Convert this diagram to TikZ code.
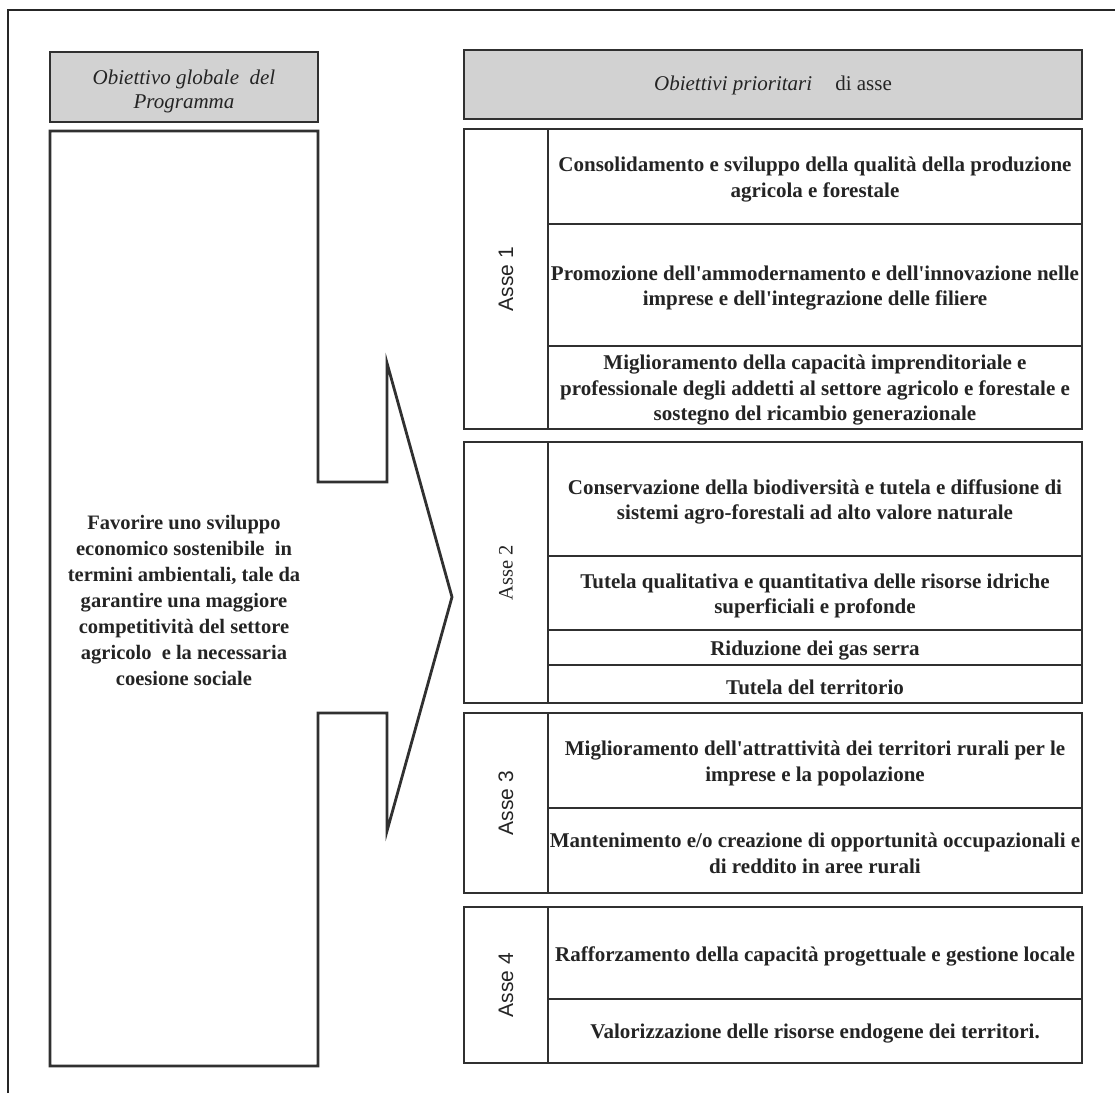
\documentclass[tikz,border=0pt]{standalone}
\usepackage{fontspec}
\setmainfont{Liberation Serif}
\newfontfamily\arialfont{Liberation Sans}
\definecolor{linec}{RGB}{48,48,48}
\definecolor{hdrfill}{RGB}{210,210,210}
\definecolor{txt}{RGB}{36,36,36}
\newcommand\apo{\textquotesingle}
\newcommand\rowfnt{\fontsize{21}{25.5}\selectfont\bfseries}
\newcommand\goalfnt{\fontsize{20.5}{26}\selectfont\bfseries}
\newcommand\hdrfnt{\fontsize{21}{24}\selectfont}
\begin{document}
\begin{tikzpicture}[x=1pt,y=-1pt,
  hdrbox/.style={draw=linec, line width=2.8pt, fill=hdrfill, inner sep=0pt},
  hdrtext/.style={align=center, font=\hdrfnt, text=txt, inner sep=0pt},
  rowcell/.style={draw=linec, line width=1.6pt, minimum width=534pt, inner sep=0pt},
  rowtext/.style={align=center, font=\rowfnt, text=txt, inner sep=0pt, yshift=-3pt},
  labsans/.style={draw=linec, line width=2.8pt, rotate=90, minimum height=84pt, inner sep=0pt, font=\arialfont\fontsize{21}{21}\selectfont, text=txt},
  labserif/.style={labsans, font=\fontsize{20.5}{21}\selectfont},
  blockframe/.style={draw=linec, line width=2.8pt, minimum width=618pt, inner sep=0pt},
  outline/.style={draw=linec, line width=2.8pt, line join=miter},
  framel/.style={draw=black!85, line width=1.8pt}
]
\useasboundingbox (0,0) rectangle (1115,1093);
% outer page frame (only top and left edges are visible)
\coordinate (fBL) at (8,1093);
\coordinate (fTL) at (8,10);
\coordinate (fTR) at (1115,10);
\draw[framel] (fBL) -- (fTL) -- (fTR);

% headers
\node[hdrbox, minimum width=268pt, minimum height=70pt] (hL) at (184,87) {};
\node[hdrtext, yshift=-4pt] (hLt) at (hL.center) {\itshape Obiettivo globale\ \ del\\ \itshape Programma};
\node[hdrbox, minimum width=618pt, minimum height=69pt] (hR) at (773,84.5) {};
\node[hdrtext, yshift=-1pt] (hRt) at (hR.center) {\itshape Obiettivi prioritari\hspace{1.1em}\upshape di asse};

% left box merged with the block arrow
\coordinate (g1) at (50,131);
\coordinate (g2) at (318,131);
\coordinate (g3) at (318,482);
\coordinate (g4) at (387,482);
\coordinate (g5) at (387,363);
\coordinate (tip) at (452,597);
\coordinate (g7) at (387,831);
\coordinate (g8) at (387,713);
\coordinate (g9) at (318,713);
\coordinate (g10) at (318,1066);
\coordinate (g11) at (50,1066);
\draw[outline] (g1) -- (g2) -- (g3) -- (g4) -- (g5) -- (tip) -- (g7) -- (g8) -- (g9) -- (g10) -- (g11) -- cycle;
\node[align=center, font=\goalfnt, text=txt, inner sep=0pt] (goal) at (184,600)
  {Favorire uno sviluppo\\economico sostenibile\ \ in\\termini ambientali, tale da\\garantire una maggiore\\competitivit\`a del settore\\agricolo\ \ e la necessaria\\coesione sociale};

% ---------- Asse 1 ----------
\node[rowcell, minimum height=95pt] (r11) at (815,176.5) {};
\node[rowtext] (t11) at (r11.center)
  {Consolidamento e sviluppo della qualità della produzione\\agricola e forestale};
\node[rowcell, minimum height=122pt] (r12) at (815,285) {};
\node[rowtext] (t12) at (r12.center)
  {Promozione dell\apo ammodernamento e dell\apo innovazione nelle\\imprese e dell\apo integrazione delle filiere};
\node[rowcell, minimum height=83pt] (r13) at (815,387.5) {};
\node[rowtext] (t13) at (r13.center)
  {Miglioramento della capacità imprenditoriale e\\professionale degli addetti al settore agricolo e forestale e\\sostegno del ricambio generazionale};
\node[labsans, minimum width=300pt] (a1) at (506,279) {Asse 1};
\node[blockframe, minimum height=300pt] (b1) at (773,279) {};

% ---------- Asse 2 ----------
\node[rowcell, minimum height=114pt] (r21) at (815,499) {};
\node[rowtext] (t21) at (r21.center)
  {Conservazione della biodiversità e tutela e diffusione di\\sistemi agro-forestali ad alto valore naturale};
\node[rowcell, minimum height=74pt] (r22) at (815,593) {};
\node[rowtext] (t22) at (r22.center)
  {Tutela qualitativa e quantitativa delle risorse idriche\\superficiali e profonde};
\node[rowcell, minimum height=35pt] (r23) at (815,647.5) {};
\node[rowtext] (t23) at (r23.center) {Riduzione dei gas serra};
\node[rowcell, minimum height=38pt] (r24) at (815,684) {};
\node[rowtext] (t24) at (r24.center) {Tutela del territorio};
\node[labserif, minimum width=261pt] (a2) at (506,572.5) {Asse 2};
\node[blockframe, minimum height=261pt] (b2) at (773,572.5) {};

% ---------- Asse 3 ----------
\node[rowcell, minimum height=95pt] (r31) at (815,760.5) {};
\node[rowtext] (t31) at (r31.center)
  {Miglioramento dell\apo attrattività dei territori rurali per le\\imprese e la popolazione};
\node[rowcell, minimum height=85pt] (r32) at (815,850.5) {};
\node[rowtext] (t32) at (r32.center)
  {Mantenimento e/o creazione di opportunità occupazionali e\\di reddito in aree rurali};
\node[labsans, minimum width=180pt] (a3) at (506,803) {Asse 3};
\node[blockframe, minimum height=180pt] (b3) at (773,803) {};

% ---------- Asse 4 ----------
\node[rowcell, minimum height=92pt] (r41) at (815,953) {};
\node[rowtext] (t41) at (r41.center)
  {Rafforzamento della capacità progettuale e gestione locale};
\node[rowcell, minimum height=64pt] (r42) at (815,1031) {};
\node[rowtext] (t42) at (r42.center)
  {Valorizzazione delle risorse endogene dei territori.};
\node[labsans, minimum width=156pt] (a4) at (506,985) {Asse 4};
\node[blockframe, minimum height=156pt] (b4) at (773,985) {};
\end{tikzpicture}
\end{document}
